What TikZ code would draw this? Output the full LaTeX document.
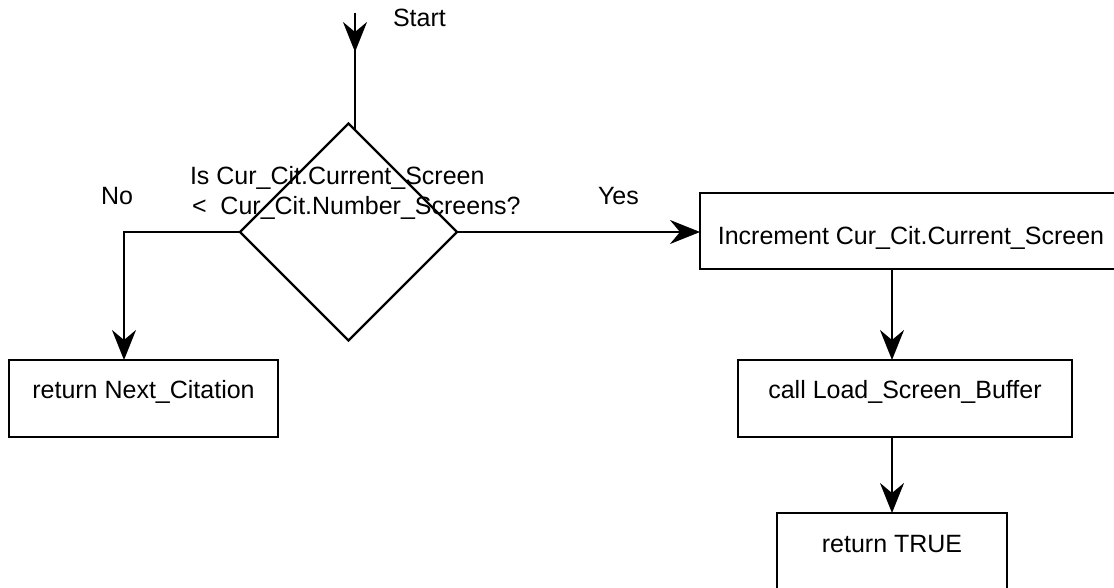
\documentclass[tikz,border=0pt]{standalone}
\usepackage{fontspec}
\setmainfont{Liberation Sans}
\usetikzlibrary{shapes.geometric,arrows.meta,calc}

\begin{document}
\begin{tikzpicture}[x=1pt,y=-1pt,
    line width=2.4pt,
    every node/.style={font=\fontsize{25}{30}\selectfont, inner sep=0pt, outer sep=0pt},
    arr/.style={-{Stealth[length=30pt,width=24pt,inset=10pt]}},
    procbox/.style={draw, rectangle, anchor=base, text height=#1},
    txt/.style={anchor=base west}]
  \useasboundingbox (0,0) rectangle (1114,588);
  \clip (0,0) rectangle (1114,588);

  % decision
  \node[diamond, draw, minimum width=217pt, minimum height=217pt] (d) at (348.5,232) {};
  \node[txt] (q1) at (190,185) {Is Cur\_Cit.Current\_Screen};
  \node[txt] (q2) at (192,215) {<~~Cur\_Cit.Number\_Screens?};

  % process boxes (placed by text baseline)
  \node[procbox=38pt, text depth=39pt, minimum width=269pt] (nc) at (143.5,398) {return Next\_Citation};
  \node[procbox=52pt, text depth=24pt, minimum width=422pt] (inc) at (911,245) {Increment Cur\_Cit.Current\_Screen};
  \node[procbox=38pt, text depth=39pt, minimum width=334pt] (call) at (905,398) {call Load\_Screen\_Buffer};
  \node[procbox=39pt, text depth=40pt, minimum width=230pt] (tru) at (892,552) {return TRUE};

  % labels
  \node[txt] (lstart) at (393,27) {Start};
  \node[txt] (lno) at (101,205) {No};
  \node[txt] (lyes) at (598,205) {Yes};

  % entry: vertical line meeting the upper right edge of the decision
  \coordinate (s0) at (355,13);
  \coordinate (s1) at (355,52);
  \coordinate (s2) at ($(d.north)!0.0599!(d.east)$);
  \draw (s0) -- (s0 |- s2);
  \draw[arr] (s0) -- (s1);

  % branches
  \coordinate (nobend) at ($(d.west)+(-116,0)$);
  \draw[arr] (d.west) -- (nobend) -- (nobend |- nc.north);
  \draw[arr] (d.east) -- (d.east -| inc.west);

  % sequence
  \draw[arr] (tru.north |- inc.south) -- (tru.north |- call.north);
  \draw[arr] (tru.north |- call.south) -- (tru.north);
\end{tikzpicture}
\end{document}
